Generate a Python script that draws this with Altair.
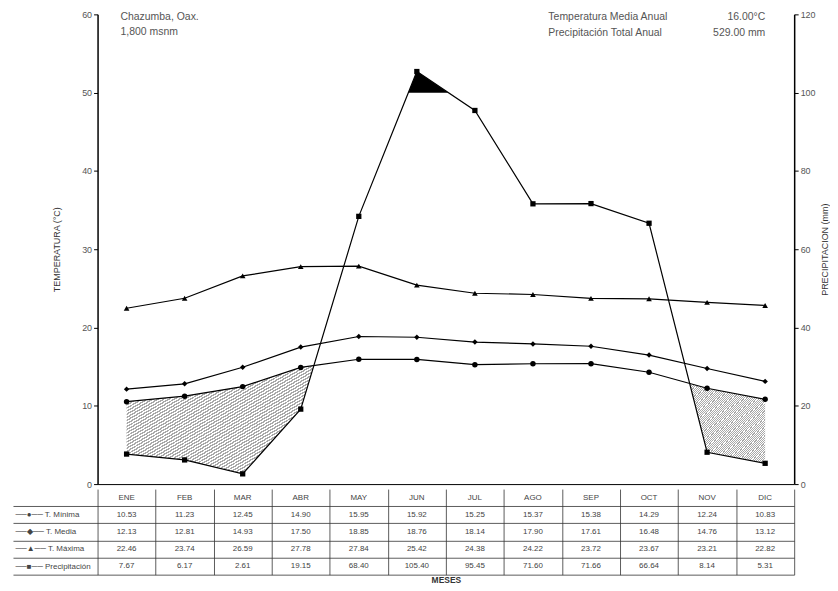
import altair as alt
import pandas as pd

FONT = "Liberation Sans"

months = ["ENE", "FEB", "MAR", "ABR", "MAY", "JUN", "JUL", "AGO", "SEP", "OCT", "NOV", "DIC"]
t_min = [10.53, 11.23, 12.45, 14.90, 15.95, 15.92, 15.25, 15.37, 15.38, 14.29, 12.24, 10.83]
t_med = [12.13, 12.81, 14.93, 17.50, 18.85, 18.76, 18.14, 17.90, 17.61, 16.48, 14.76, 13.12]
t_max = [22.46, 23.74, 26.59, 27.78, 27.84, 25.42, 24.38, 24.22, 23.72, 23.67, 23.21, 22.82]
precip = [7.67, 6.17, 2.61, 19.15, 68.40, 105.40, 95.45, 71.60, 71.66, 66.64, 8.14, 5.31]

row_labels = ["", "──●── T. Mínima", "──◆── T. Media", "──▲── T. Máxima", "──■── Precipitación"]
station = "Chazumba, Oax.\n1,800 msnm"
annual_labels = "Temperatura Media Anual\nPrecipitación Total Anual"
annual_values = "16.00°C\n529.00 mm"

P_FACTOR = 2.0  # 120 mm on the right axis == 60 °C on the left axis
n = len(months)
p_temp = [p / P_FACTOR for p in precip]


def fill_band(upper, lower):
    rows = []
    seg = 0
    for i in range(n):
        d = upper[i] - lower[i]
        if d >= 0:
            rows.append({"x": i, "hi": upper[i], "lo": lower[i], "seg": seg})
        if i < n - 1:
            d2 = upper[i + 1] - lower[i + 1]
            if (d >= 0) != (d2 >= 0):
                t = d / (d - d2)
                yc = lower[i] + t * (lower[i + 1] - lower[i])
                if d < 0:
                    seg += 1
                rows.append({"x": i + t, "hi": yc, "lo": yc, "seg": seg})
    return pd.DataFrame(rows)


dry = fill_band(t_min, p_temp)
wet = fill_band(p_temp, [100 / P_FACTOR] * n)

lines_df = pd.DataFrame({"m": list(range(n)), "tmin": t_min, "tmed": t_med,
                         "tmax": t_max, "p": precip})

XDOM = alt.Scale(domain=[-0.5, 11.5], nice=False, zero=False)
x_axis_top = alt.Axis(labels=False, ticks=False, title=None, grid=False,
                      domain=True, domainColor="black", domainWidth=1)
TSCALE = alt.Scale(domain=[0, 60], nice=False, zero=True)

# hatch-like stripes
stops = []
N = 70
for k in range(N):
    a = k / N
    b = (k + 0.5) / N
    c = (k + 1) / N
    stops += [alt.GradientStop(color="#ffffff", offset=a),
              alt.GradientStop(color="#ffffff", offset=b),
              alt.GradientStop(color="#8c8c8c", offset=b),
              alt.GradientStop(color="#8c8c8c", offset=c)]
hatch = alt.LinearGradient(gradient="linear", stops=stops, x1=0, y1=0, x2=1, y2=1)

dry_layer = alt.Chart(dry).mark_area(fill=hatch, opacity=0.75, stroke=None).encode(
    x=alt.X("x:Q", scale=XDOM, axis=x_axis_top),
    y=alt.Y("hi:Q", scale=TSCALE, axis=None),
    y2="lo:Q",
    detail="seg:N",
)
wet_layer = alt.Chart(wet).mark_area(color="black").encode(
    x=alt.X("x:Q", scale=XDOM, axis=x_axis_top),
    y=alt.Y("hi:Q", scale=TSCALE, axis=None),
    y2="lo:Q",
    detail="seg:N",
)

base = alt.Chart(lines_df)


def tline(field, shape, size, axis=None):
    return base.mark_line(color="black", strokeWidth=1.2,
                          point=alt.OverlayMarkDef(shape=shape, size=size, filled=True,
                                                   color="black")).encode(
        x=alt.X("m:Q", scale=XDOM, axis=x_axis_top),
        y=alt.Y(f"{field}:Q", scale=TSCALE, axis=axis),
    )


left_axis = alt.Axis(values=list(range(0, 61, 10)), title="TEMPERATURA (°C)",
                     titleFontWeight="normal", titleFontSize=9, titleColor="#333",
                     titlePadding=20, labelFontSize=9, labelColor="#555",
                     tickSize=4, tickColor="black", domainColor="black",
                     domainWidth=1.5, grid=False)
right_axis = alt.Axis(orient="right", values=list(range(0, 121, 20)),
                      title="PRECIPITACION (mm)", titleAngle=270,
                      titleFontWeight="normal", titleFontSize=9, titleColor="#333",
                      titlePadding=14, labelFontSize=9, labelColor="#555",
                      tickSize=4, tickColor="black", domainColor="black",
                      domainWidth=1.5, grid=False)

tmin_layer = tline("tmin", "circle", 30, left_axis)
tmed_layer = tline("tmed", "diamond", 30)
tmax_layer = tline("tmax", "triangle-up", 32)
prec_layer = base.mark_line(color="black", strokeWidth=1.2,
                            point=alt.OverlayMarkDef(shape="square", size=28, filled=True,
                                                     color="black")).encode(
    x=alt.X("m:Q", scale=XDOM, axis=x_axis_top),
    y=alt.Y("p:Q", scale=alt.Scale(domain=[0, 120], nice=False), axis=right_axis),
)

ann_df = pd.DataFrame({"a": [station], "b": [annual_labels], "c": [annual_values]})
ann = alt.Chart(ann_df)
ann1 = ann.mark_text(align="left", baseline="top", lineBreak="\n", fontSize=10.5,
                     color="#555", lineHeight=15).encode(
    x=alt.value(23), y=alt.value(-2), text="a:N")
ann2 = ann.mark_text(align="left", baseline="top", lineBreak="\n", fontSize=10.5,
                     color="#555", lineHeight=16).encode(
    x=alt.value(453), y=alt.value(-2), text="b:N")
ann3 = ann.mark_text(align="right", baseline="top", lineBreak="\n", fontSize=10.5,
                     color="#555", lineHeight=16).encode(
    x=alt.value(671), y=alt.value(-2), text="c:N")

top = alt.layer(dry_layer, wet_layer, tmin_layer, tmed_layer, tmax_layer, prec_layer,
                ann1, ann2, ann3).resolve_scale(y="independent").properties(
    width=700, height=472)

# table
trows = []
series_vals = [None, t_min, t_med, t_max, precip]
for i in range(n):
    trows.append({"m": i, "r": 0, "txt": months[i]})
    for r in range(1, 5):
        trows.append({"m": i, "r": r, "txt": f"{series_vals[r][i]:.2f}"})
table_df = pd.DataFrame(trows)

nrows = len(row_labels)
TABLE_H = 86
label_js = "[" + ",".join("'" + s + "'" for s in row_labels) + "]"

table = alt.Chart(table_df).mark_text(fontSize=8, color="#444").encode(
    x=alt.X("m:Q", scale=XDOM,
            axis=alt.Axis(values=[k - 0.5 for k in range(n + 1)], labels=False,
                          ticks=False, domain=False, grid=True, gridColor="#333",
                          gridWidth=0.8, title="MESES", titleFontSize=8.5,
                          titleFontWeight="bold", titleColor="#333", titlePadding=1)),
    y=alt.Y("r:Q", scale=alt.Scale(domain=[-0.5, nrows - 0.5], reverse=True, nice=False,
                                   zero=False),
            axis=alt.Axis(title=None, values=[k + 0.5 for k in range(nrows)],
                          tickSize=85, labelPadding=-2, labelAlign="left",
                          labelOffset=-TABLE_H / nrows / 2, labelBaseline="middle",
                          labelExpr=f"{label_js}[round(datum.value - 0.5)]",
                          domain=False, grid=True, gridColor="#333", gridWidth=0.8,
                          tickColor="#333", tickWidth=0.8, labelFontSize=8,
                          labelColor="#444")),
    text="txt:N",
).properties(width=700, height=TABLE_H)

chart = alt.vconcat(top, table, spacing=0).properties(
    padding={"left": 4, "top": 1, "right": 0, "bottom": 0}
).configure_view(stroke=None).configure_axis(
    labelFont=FONT, titleFont=FONT
).configure_text(font=FONT)

chart.save("out.html", embed_options={"renderer": "svg", "actions": False})
